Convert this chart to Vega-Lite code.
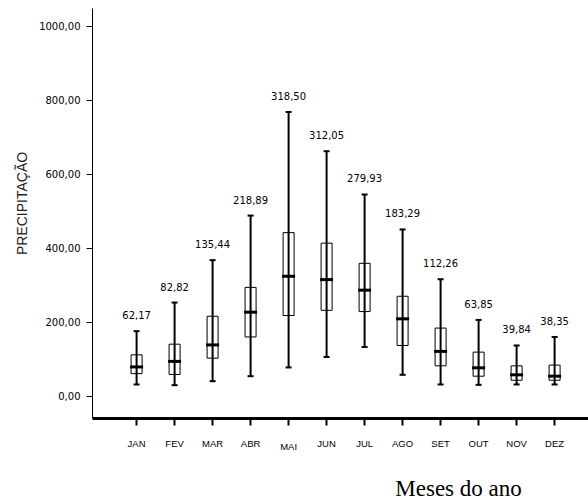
{
  "$schema": "https://vega.github.io/schema/vega-lite/v6.json",
  "width": 496,
  "height": 410,
  "autosize": "none",
  "padding": {"left": 92, "top": 8, "right": 0, "bottom": 83},
  "background": "white",
  "config": {"view": {"stroke": null}},
  "data": {"values": [
    {"month": "JAN", "lo": 31.5, "q1": 61, "med": 79, "q3": 111.7, "hi": 175.7, "label": "62,17"},
    {"month": "FEV", "lo": 29.7, "q1": 58.6, "med": 94, "q3": 140.5, "hi": 253, "label": "82,82"},
    {"month": "MAR", "lo": 40.5, "q1": 102.7, "med": 138.5, "q3": 216, "hi": 367.6, "label": "135,44"},
    {"month": "ABR", "lo": 54, "q1": 160, "med": 227, "q3": 294, "hi": 488, "label": "218,89"},
    {"month": "MAI", "lo": 77.6, "q1": 218, "med": 324, "q3": 442, "hi": 768, "label": "318,50"},
    {"month": "JUN", "lo": 106, "q1": 232, "med": 315, "q3": 413.5, "hi": 662, "label": "312,05"},
    {"month": "JUL", "lo": 133, "q1": 228.6, "med": 286.5, "q3": 359, "hi": 545, "label": "279,93"},
    {"month": "AGO", "lo": 57.7, "q1": 137, "med": 209, "q3": 270, "hi": 450.5, "label": "183,29"},
    {"month": "SET", "lo": 31.6, "q1": 82, "med": 121, "q3": 184, "hi": 316, "label": "112,26"},
    {"month": "OUT", "lo": 30.6, "q1": 54, "med": 76.6, "q3": 119, "hi": 206, "label": "63,85"},
    {"month": "NOV", "lo": 31.6, "q1": 43, "med": 57.7, "q3": 82, "hi": 137, "label": "39,84"},
    {"month": "DEZ", "lo": 31.6, "q1": 43, "med": 54, "q3": 84, "hi": 160, "label": "38,35"}
  ]},
  "encoding": {
    "x": {
      "field": "month", "type": "nominal", "sort": null,
      "scale": {"paddingInner": 0, "paddingOuter": 0.526, "align": 0.64},
      "axis": {
        "bandPosition": 0.5,
        "domainColor": "black", "domainWidth": 3,
        "tickColor": "black", "tickWidth": 2, "tickSize": 7,
        "labelAngle": 0, "labelFont": "Liberation Sans", "labelFontSize": 9.5, "labelColor": "black",
        "labelPadding": {"condition": {"test": "datum.value === 'MAI'", "value": 16}, "value": 13},
        "title": "Meses do ano", "titleFont": "Liberation Serif", "titleFontSize": 23,
        "titleFontWeight": "normal", "titleColor": "black",
        "titleX": 366, "titleY": 77, "titleAlign": "center", "titleAnchor": null, "titleBaseline": "alphabetic",
        "grid": false
      }
    }
  },
  "layer": [
    {
      "mark": {"type": "bar", "size": 11, "fill": "white", "stroke": "black", "strokeWidth": 1},
      "encoding": {
        "y": {
          "field": "q1", "type": "quantitative",
          "scale": {"domain": [-59, 1049], "nice": false, "zero": false},
          "axis": {
            "values": [0, 200, 400, 600, 800, 1000],
            "labelExpr": "replace(format(datum.value, '.2f'), '.', ',')",
            "domainColor": "black", "domainWidth": 1,
            "tickColor": "black", "tickSize": 6, "tickWidth": 1,
            "labelFont": "DejaVu Sans", "labelFontSize": 10, "labelColor": "black", "labelPadding": 6,
            "grid": false,
            "title": "PRECIPITAÇÃO", "titleFont": "Liberation Sans", "titleFontSize": 14,
            "titleFontWeight": "normal", "titleColor": "#222222",
            "titleX": -70, "titleY": 195, "titleAngle": -90, "titleAlign": "center",
            "titleAnchor": null, "titleBaseline": "middle"
          }
        },
        "y2": {"field": "q3"}
      }
    },
    {
      "mark": {"type": "rule", "strokeWidth": 2, "color": "black"},
      "encoding": {"y": {"field": "lo", "type": "quantitative"}, "y2": {"field": "hi"}}
    },
    {
      "mark": {"type": "tick", "size": 6, "thickness": 2, "color": "black", "opacity": 1},
      "encoding": {"y": {"field": "lo", "type": "quantitative"}}
    },
    {
      "mark": {"type": "tick", "size": 6, "thickness": 2, "color": "black", "opacity": 1},
      "encoding": {"y": {"field": "hi", "type": "quantitative"}}
    },
    {
      "mark": {"type": "tick", "size": 13, "thickness": 3, "color": "black", "opacity": 1},
      "encoding": {"y": {"field": "med", "type": "quantitative"}}
    },
    {
      "mark": {"type": "text", "dy": -15, "font": "DejaVu Sans", "fontSize": 10, "color": "black", "baseline": "middle"},
      "encoding": {"y": {"field": "hi", "type": "quantitative"}, "text": {"field": "label"}}
    }
  ]
}
